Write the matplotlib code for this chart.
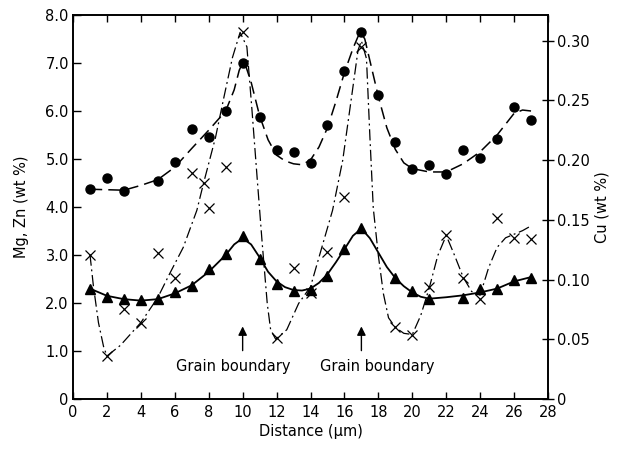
import matplotlib
matplotlib.use("Agg")
import matplotlib.pyplot as plt

# ---- data ----
zn_x = [1, 2, 3, 5, 6, 7, 8, 9, 10, 11, 12, 13, 14, 15, 16, 17, 18, 19, 20, 21, 22, 23, 24, 25, 26, 27]
zn_y = [4.37, 4.60, 4.33, 4.54, 4.94, 5.63, 5.46, 6.00, 7.00, 5.88, 5.19, 5.15, 4.92, 5.71, 6.83, 7.65,
        6.33, 5.35, 4.79, 4.88, 4.69, 5.19, 5.02, 5.42, 6.08, 5.81]

mg_x = [1, 2, 3, 4, 5, 6, 7, 8, 9, 10, 11, 12, 13, 14, 15, 16, 17, 19, 20, 21, 23, 24, 25, 26, 27]
mg_y = [2.29, 2.13, 2.08, 2.06, 2.08, 2.23, 2.35, 2.71, 3.02, 3.40, 2.92, 2.40, 2.25, 2.28, 2.56, 3.13,
        3.56, 2.52, 2.25, 2.08, 2.11, 2.29, 2.29, 2.48, 2.53]

cu_x = [1, 2, 3, 4, 5, 6, 7, 7.7, 8, 9, 10, 12, 13, 14, 15, 16, 17, 19, 20, 21, 22, 23, 24, 25, 26, 27]
cu_y = [0.121, 0.036, 0.075, 0.064, 0.122, 0.101, 0.189, 0.181, 0.160, 0.194, 0.307, 0.051, 0.110, 0.089,
        0.123, 0.169, 0.295, 0.060, 0.054, 0.094, 0.137, 0.101, 0.084, 0.152, 0.135, 0.134]

# hand-drawn trend curves
zn_fit_x = [1, 2, 3, 4, 5, 6, 7, 8, 9, 9.5, 9.8, 10, 10.2, 10.5, 11, 11.5, 12, 12.5, 13, 13.5, 14, 14.5, 15,
            15.5, 16, 16.5, 16.8, 17, 17.2, 17.5, 18, 18.5, 19, 19.5, 20, 21, 22, 23, 24, 25, 26, 26.5, 27]
zn_fit_y = [4.37, 4.36, 4.35, 4.45, 4.57, 4.83, 5.22, 5.60, 6.00, 6.44, 6.85, 7.00, 6.92, 6.60, 5.90, 5.40,
            5.08, 4.96, 4.90, 4.88, 4.98, 5.25, 5.65, 6.20, 6.80, 7.30, 7.55, 7.62, 7.50, 7.05, 6.30, 5.65,
            5.20, 4.92, 4.80, 4.73, 4.73, 4.90, 5.15, 5.50, 5.95, 6.02, 6.00]

mg_fit_x = [1, 2, 3, 4, 5, 6, 7, 8, 9, 9.5, 10, 10.5, 11, 11.5, 12, 12.5, 13, 13.5, 14, 14.5, 15, 15.5, 16,
            16.5, 17, 17.5, 18, 18.5, 19, 19.5, 20, 20.5, 21, 22, 23, 24, 25, 26, 27]
mg_fit_y = [2.30, 2.15, 2.08, 2.05, 2.08, 2.20, 2.37, 2.65, 3.00, 3.22, 3.35, 3.22, 2.95, 2.65, 2.45, 2.33,
            2.27, 2.26, 2.30, 2.42, 2.60, 2.85, 3.12, 3.40, 3.55, 3.35, 3.05, 2.75, 2.52, 2.35, 2.22, 2.13,
            2.09, 2.12, 2.16, 2.22, 2.30, 2.45, 2.54]

cu_fit_x = [1, 1.2, 1.5, 1.8, 2, 2.8, 4, 5, 5.7, 6.5, 7.3, 7.7, 8.4, 8.9, 9.4, 9.85, 10.25, 10.55, 10.85,
            11.15, 11.45, 11.65, 11.95, 12.6, 13.3, 14, 14.75, 15.3, 15.9, 16.45, 16.8, 17, 17.3, 17.5, 17.7,
            18, 18.3, 18.6, 19, 19.5, 20, 20.5, 21, 21.5, 22, 22.5, 23, 23.5, 24, 24.5, 25, 25.5, 26, 26.5, 27]
cu_fit_y = [0.121, 0.095, 0.064, 0.044, 0.036, 0.045, 0.064, 0.085, 0.105, 0.127, 0.158, 0.181, 0.219,
            0.253, 0.286, 0.307, 0.295, 0.242, 0.186, 0.131, 0.080, 0.058, 0.050, 0.058, 0.080, 0.094,
            0.131, 0.158, 0.200, 0.256, 0.292, 0.300, 0.285, 0.220, 0.160, 0.120, 0.088, 0.068, 0.060,
            0.055, 0.054, 0.070, 0.093, 0.120, 0.137, 0.120, 0.102, 0.090, 0.087, 0.110, 0.127, 0.135,
            0.138, 0.141, 0.145]

x_ticks = [0, 2, 4, 6, 8, 10, 12, 14, 16, 18, 20, 22, 24, 26, 28]
left_ticks = [0, 1, 2, 3, 4, 5, 6, 7, 8]
left_labels = ["0", "1.0", "2.0", "3.0", "4.0", "5.0", "6.0", "7.0", "8.0"]
right_ticks = [0, 0.05, 0.10, 0.15, 0.20, 0.25, 0.30]
right_labels = ["0", "0.05", "0.10", "0.15", "0.20", "0.25", "0.30"]
boundaries = [10, 17]
boundary_text = "Grain boundary"

plt.rcParams['font.family'] = ['DejaVu Sans']
fig = plt.figure(figsize=(6.18, 4.53), dpi=100)
ax = fig.add_axes([73 / 618, 1 - 399 / 453, 475 / 618, 384 / 453])
ax2 = ax.twinx()

fs = 10.5
ax.set_xlim(0, 28)
ax.set_ylim(0, 8)
ax2.set_ylim(0, 0.3216)

# Zn
ax.plot(zn_fit_x, zn_fit_y, color='black', lw=1.1, dashes=(8, 4))
ax.plot(zn_x, zn_y, 'o', color='black', ms=6.5)
# Mg
ax.plot(mg_fit_x, mg_fit_y, color='black', lw=1.3)
ax.plot(mg_x, mg_y, '^', color='black', ms=7)
# Cu
ax2.plot(cu_fit_x, cu_fit_y, color='black', lw=0.9, dashes=(9, 3, 1.5, 3))
ax2.plot(cu_x, cu_y, 'x', color='black', ms=7, mew=0.9)

ax.set_xticks(x_ticks)
ax.set_xticklabels([str(t) for t in x_ticks], fontsize=fs)
ax.set_yticks(left_ticks)
ax.set_yticklabels(left_labels, fontsize=fs)
ax.tick_params(axis='x', direction='in', length=5, width=1, top=True, pad=4)
ax.tick_params(axis='y', direction='in', length=6, width=1, pad=3)

ax2.set_yticks(right_ticks)
ax2.set_yticklabels(right_labels, fontsize=fs)
ax2.tick_params(axis='y', direction='inout', length=9, width=1, pad=2)

for a in (ax, ax2):
    for s in a.spines.values():
        s.set_linewidth(1.2)

ax.set_xlabel("Distance (µm)", fontsize=fs, labelpad=3)
ax.set_ylabel("Mg, Zn (wt %)", fontsize=fs, labelpad=12)
ax2.set_ylabel("Cu (wt %)", fontsize=fs, labelpad=3)

for b in boundaries:
    ax.annotate("", xy=(b, 1.57), xytext=(b, 0.95),
                arrowprops=dict(arrowstyle='-|>', color='black', lw=1.0, mutation_scale=13))
ax.text(9.43, 0.67, boundary_text, fontsize=fs, ha='center', va='center')
ax.text(17.95, 0.67, boundary_text, fontsize=fs, ha='center', va='center')

fig.savefig("out.png", dpi=100)
